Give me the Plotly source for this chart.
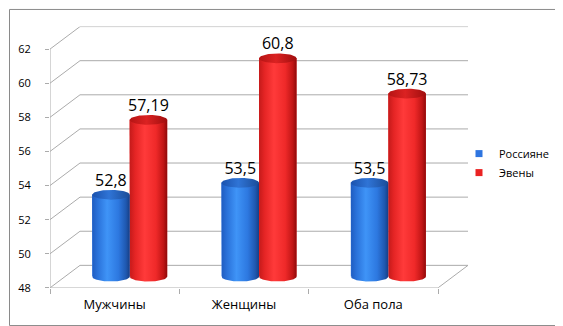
import numpy as np
import plotly.graph_objects as go

# ---------------- data ----------------
categories = ["Мужчины", "Женщины", "Оба пола"]
series_names = ["Россияне", "Эвены"]
russians = [52.8, 53.5, 53.5]
evens = [57.19, 60.8, 58.73]
labels_russians = ["52,8", "53,5", "53,5"]
labels_evens = ["57,19", "60,8", "58,73"]
y_ticks = [48, 50, 52, 54, 56, 58, 60, 62]

# ---------------- layout geometry ----------------
W, H = 563, 326
Y_MIN, Y_MAX = 48, 62
FRONT_L, FRONT_R = 42, 430          # px, front plane x extent
FRONT_B, FRONT_T = 286, 42          # px, front plane y extent (48 .. 62)
DEPTH_X, DEPTH_Y = 30, 23           # px, depth offset of back wall
ppx = (FRONT_R - FRONT_L) / len(categories)
ppy = (FRONT_B - FRONT_T) / (Y_MAX - Y_MIN)
DX = DEPTH_X / ppx
DY = DEPTH_Y / ppy
X0 = -0.5
X1 = len(categories) - 0.5
BW = 0.29            # bar width (category units)
RY = 5 / ppy         # ellipse half-height in value units

blue_c = "#2e75e0"
red_c = "#ea2222"
blue_body = [[0, "#1f5cc0"], [0.15, "#2a72da"], [0.4, "#3f94f7"], [0.7, "#2d78e0"], [0.9, "#1f58b0"], [1, "#163f86"]]
blue_top = [[0, "#1b52ad"], [0.45, "#2f74d6"], [1, "#1b4c98"]]
red_body = [[0, "#c41a1a"], [0.15, "#e52525"], [0.4, "#ff3a3a"], [0.7, "#ef2929"], [0.9, "#c01515"], [1, "#8e0a0a"]]
red_top = [[0, "#b51414"], [0.45, "#db2222"], [1, "#a00e0e"]]

FONT = "Open Sans, Noto Sans, DejaVu Sans, sans-serif"
GRID = "#ababab"

fig = go.Figure()

series = [
    (series_names[0], russians, labels_russians, -BW / 2, blue_c, blue_body, blue_top),
    (series_names[1], evens, labels_evens, BW / 2, red_c, red_body, red_top),
]

t = np.linspace(0, np.pi, 40)
tt = np.linspace(0, 2 * np.pi, 80)

for name, vals, labs, off, col, body_cs, top_cs in series:
    xs = [i + off + DX / 2 for i in range(len(categories))]
    base = Y_MIN + DY / 2
    # data bars (middle depth plane)
    fig.add_trace(go.Bar(
        x=xs, y=[v - Y_MIN for v in vals], base=base, width=BW,
        marker=dict(color=col, line=dict(width=0)),
        customdata=vals, hovertemplate=name + ": %{customdata}<extra></extra>",
        showlegend=False, name=name,
    ))
for name, vals, labs, off, col, body_cs, top_cs in series:
    xs = [i + off + DX / 2 for i in range(len(categories))]
    base = Y_MIN + DY / 2
    for c, v in zip(xs, vals):
        top = v + DY / 2
        xl, xr = c - BW / 2, c + BW / 2
        # cylinder body: left edge down, bottom arc, right edge up
        bx = [xl] + list(c - BW / 2 * np.cos(t)) + [xr, xl]
        by = [top] + list(base - RY * np.sin(t)) + [top, top]
        fig.add_trace(go.Scatter(
            x=bx, y=by, mode="lines", fill="toself", line=dict(width=0),
            fillgradient=dict(type="horizontal", colorscale=body_cs),
            hoverinfo="skip", showlegend=False,
        ))
        # top ellipse
        fig.add_trace(go.Scatter(
            x=list(c + BW / 2 * np.cos(tt)), y=list(top + RY * np.sin(tt)),
            mode="lines", fill="toself", line=dict(width=0),
            fillgradient=dict(type="horizontal", colorscale=top_cs),
            hoverinfo="skip", showlegend=False,
        ))
    # value labels
    fig.add_trace(go.Scatter(
        x=xs, y=[v + DY / 2 + RY for v in vals], mode="text", text=labs,
        textposition="top center", textfont=dict(family=FONT, size=16, color="#000000"),
        hoverinfo="skip", showlegend=False, cliponaxis=False,
    ))

# legend entries
for name, vals, labs, off, col, body_cs, top_cs in series:
    fig.add_trace(go.Scatter(
        x=[None], y=[None], mode="markers", name=name,
        marker=dict(symbol="square", size=7, color=col), legendgroup=name,
    ))

# ---------------- 3D frame decorations ----------------
shapes = []
line = dict(color=GRID, width=1)
for v in y_ticks:
    # back wall gridline
    shapes.append(dict(type="line", xref="x", yref="y", layer="below",
                       x0=X0 + DX, x1=X1 + DX, y0=v + DY, y1=v + DY, line=line))
    # side wall diagonal
    shapes.append(dict(type="line", xref="x", yref="y", layer="below",
                       x0=X0, x1=X0 + DX, y0=v, y1=v + DY, line=line))
# front vertical axis
shapes.append(dict(type="line", xref="x", yref="y", layer="below",
                   x0=X0, x1=X0, y0=Y_MIN, y1=Y_MAX, line=line))
# floor front edge and right diagonal
shapes.append(dict(type="line", xref="x", yref="y", layer="below",
                   x0=X0, x1=X1, y0=Y_MIN, y1=Y_MIN, line=line))
shapes.append(dict(type="line", xref="x", yref="y", layer="below",
                   x0=X1, x1=X1 + DX, y0=Y_MIN, y1=Y_MIN + DY, line=line))
# outer border
shapes.append(dict(type="rect", xref="paper", yref="paper",
                   x0=1.5 / W, x1=561.5 / W, y0=1 - 324.5 / H, y1=1 - 1.5 / H,
                   line=dict(color="#8a8a8a", width=1), fillcolor="rgba(0,0,0,0)"))

fig.update_layout(
    width=W, height=H,
    margin=dict(l=0, r=0, t=0, b=0),
    paper_bgcolor="white", plot_bgcolor="rgba(0,0,0,0)",
    barmode="overlay",
    shapes=shapes,
    font=dict(family=FONT, color="#000000"),
    showlegend=True,
    legend=dict(x=451 / W, xanchor="left", y=1 - 158.5 / H, yanchor="middle",
                font=dict(family=FONT, size=11, color="#000000"),
                bgcolor="rgba(0,0,0,0)", tracegroupgap=0),
    xaxis=dict(
        domain=[FRONT_L / W, (FRONT_R + DEPTH_X) / W],
        range=[X0, X1 + DX], showgrid=False, zeroline=False, showline=False,
        tickmode="array", tickvals=list(range(len(categories))), ticktext=categories,
        ticks="", ticklabelstandoff=7, tickfont=dict(family=FONT, size=13, color="#000000"),
        minor=dict(tickmode="array", tickvals=[X0 + k for k in range(len(categories) + 1)],
                   ticks="outside", ticklen=5, tickcolor=GRID, showgrid=False),
        fixedrange=True,
    ),
    yaxis=dict(
        domain=[1 - FRONT_B / H, 1 - (FRONT_T - DEPTH_Y) / H],
        range=[Y_MIN, Y_MAX + DY], showgrid=False, zeroline=False, showline=False,
        tickmode="array", tickvals=y_ticks, ticktext=[str(v) for v in y_ticks],
        ticks="outside", ticklen=4, tickcolor=GRID, ticklabelstandoff=12,
        tickfont=dict(family=FONT, size=11, color="#000000"),
        fixedrange=True,
    ),
)

fig.write_html("out.html")
